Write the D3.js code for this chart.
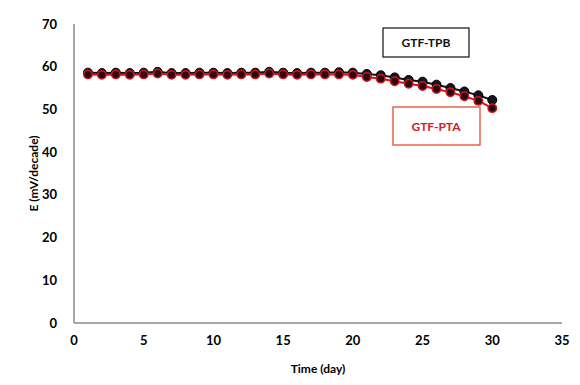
<!DOCTYPE html>
<html>
<head>
<meta charset="utf-8">
<script src="https://cdn.jsdelivr.net/npm/d3@7"></script>
<style>
body { margin: 0; background: #fff; }
svg text { font-family: Lato, "Open Sans", sans-serif; font-weight: bold; }
</style>
</head>
<body>
<div id="chart"></div>
<script>
// data
var days = d3.range(1, 31);
var tpb = [58.6, 58.5, 58.6, 58.5, 58.6, 58.8, 58.5, 58.5, 58.6, 58.6,
           58.5, 58.6, 58.6, 58.8, 58.6, 58.5, 58.6, 58.6, 58.7, 58.6,
           58.3, 58.0, 57.5, 56.9, 56.5, 55.8, 55.0, 54.2, 53.3, 52.2];
var pta = [58.2, 58.1, 58.2, 58.1, 58.2, 58.4, 58.1, 58.1, 58.2, 58.2,
           58.1, 58.2, 58.2, 58.4, 58.2, 58.1, 58.2, 58.2, 58.2, 58.1,
           57.6, 57.2, 56.6, 56.0, 55.5, 54.8, 54.0, 53.1, 52.0, 50.3];
var xTicks = [0, 5, 10, 15, 20, 25, 30, 35];
var yTicks = [0, 10, 20, 30, 40, 50, 60, 70];

var W = 580, H = 385;
var svg = d3.select("#chart").append("svg").attr("width", W).attr("height", H);

var x = d3.scaleLinear().domain([0, 35]).range([74, 562]);
var y = d3.scaleLinear().domain([0, 70]).range([323, 24]);

// axis lines
svg.append("line").attr("x1", x(0)).attr("x2", x(0)).attr("y1", y(70)).attr("y2", y(0))
    .attr("stroke", "#8a8a8a").attr("stroke-width", 1.5);
svg.append("line").attr("x1", x(0)).attr("x2", x(35)).attr("y1", y(0)).attr("y2", y(0))
    .attr("stroke", "#8a8a8a").attr("stroke-width", 1.5);

// tick labels
svg.selectAll(".ytl").data(yTicks).enter().append("text")
    .attr("class", "ytl")
    .attr("x", 57).attr("y", function(d) { return y(d); })
    .attr("dy", "0.35em").attr("text-anchor", "end")
    .attr("font-size", 13).text(function(d) { return d; });
svg.selectAll(".xtl").data(xTicks).enter().append("text")
    .attr("class", "xtl")
    .attr("x", function(d) { return x(d); }).attr("y", 345)
    .attr("text-anchor", "middle")
    .attr("font-size", 13).text(function(d) { return d; });

// axis titles
svg.append("text").attr("x", x(17.5)).attr("y", 373).attr("text-anchor", "middle")
    .attr("font-size", 12).text("Time (day)");
svg.append("text").attr("transform", "translate(38," + y(35) + ") rotate(-90)")
    .attr("text-anchor", "middle").attr("font-size", 12).text("E (mV/decade)");

var line = d3.line().x(function(d, i) { return x(days[i]); }).y(function(d) { return y(d); });

// GTF-TPB series
svg.append("path").datum(tpb).attr("d", line)
    .attr("fill", "none").attr("stroke", "#111").attr("stroke-width", 2);
svg.selectAll(".tpb").data(tpb).enter().append("circle")
    .attr("class", "tpb")
    .attr("cx", function(d, i) { return x(days[i]); })
    .attr("cy", function(d) { return y(d); })
    .attr("r", 4.5).attr("fill", "#151520").attr("stroke", "#000").attr("stroke-width", 1);

// GTF-PTA series
svg.append("path").datum(pta).attr("d", line)
    .attr("fill", "none").attr("stroke", "#d0141e").attr("stroke-width", 2);
svg.selectAll(".pta").data(pta).enter().append("circle")
    .attr("class", "pta")
    .attr("cx", function(d, i) { return x(days[i]); })
    .attr("cy", function(d) { return y(d); })
    .attr("r", 4.2).attr("fill", "#2a0a12").attr("stroke", "#d0141e").attr("stroke-width", 1.5);

// labels in boxes
svg.append("rect").attr("x", 383).attr("y", 28).attr("width", 86).attr("height", 29)
    .attr("fill", "#fff").attr("stroke", "#222").attr("stroke-width", 1.3);
svg.append("text").attr("x", 426).attr("y", 42.5).attr("dy", "0.35em").attr("text-anchor", "middle")
    .attr("font-size", 12).attr("fill", "#111").text("GTF-TPB");

svg.append("rect").attr("x", 393).attr("y", 107).attr("width", 87).attr("height", 38)
    .attr("fill", "#fff").attr("stroke", "#e0502a").attr("stroke-width", 1.3);
svg.append("text").attr("x", 436).attr("y", 127).attr("dy", "0.35em").attr("text-anchor", "middle")
    .attr("font-size", 12).attr("fill", "#d0202a").text("GTF-PTA");
</script>
</body>
</html>
